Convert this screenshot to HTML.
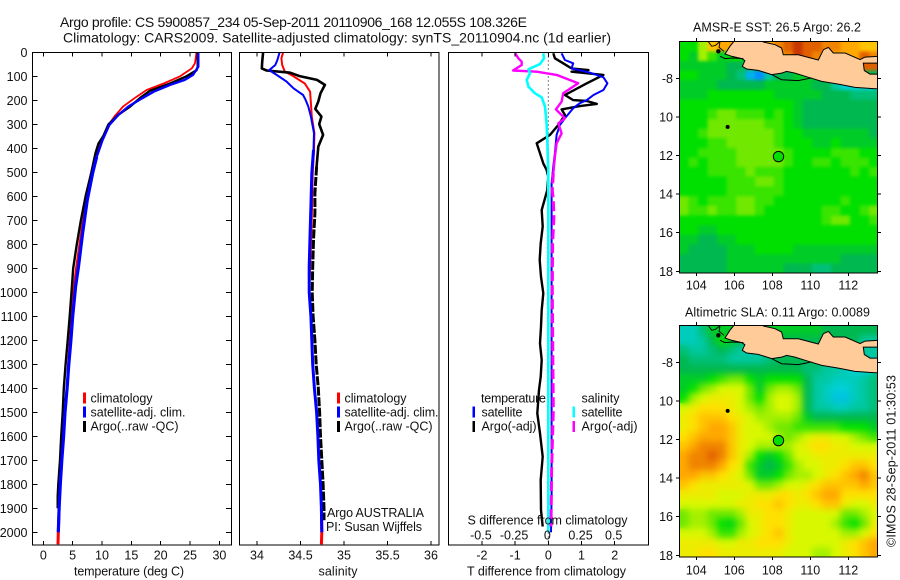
<!DOCTYPE html>
<html lang="en">
<head>
<meta charset="utf-8">
<title>Argo profile</title>
<style>
html,body{margin:0;padding:0;background:#fff;width:900px;height:580px;overflow:hidden}
svg{display:block}
text{font-family:"Liberation Sans",Arial,sans-serif;font-size:12.5px;fill:#111}
</style>
</head>
<body>
<svg id="fig" xmlns="http://www.w3.org/2000/svg" width="900" height="580" viewBox="0 0 900 580">
<defs>
<clipPath id="clip-sst"><rect x="679.5" y="41.5" width="198" height="231.5"/></clipPath>
<clipPath id="clip-sla"><rect x="679.5" y="325.5" width="198" height="231.5"/></clipPath>
<clipPath id="clip-p1"><rect x="32.5" y="52.5" width="199" height="492.5"/></clipPath>
<clipPath id="clip-p2"><rect x="239.5" y="52.5" width="199.5" height="492.5"/></clipPath>
<clipPath id="clip-p3"><rect x="448.5" y="52.5" width="200" height="492.5"/></clipPath>
<filter id="soft-sst" filterUnits="userSpaceOnUse" x="670" y="30" width="220" height="255" color-interpolation-filters="sRGB">
<feGaussianBlur in="SourceGraphic" stdDeviation="1.6" result="b"/>
<feMerge><feMergeNode in="SourceGraphic"/><feMergeNode in="b"/></feMerge>
</filter>
<filter id="soft-sla" filterUnits="userSpaceOnUse" x="670" y="315" width="220" height="255" color-interpolation-filters="sRGB">
<feGaussianBlur in="SourceGraphic" stdDeviation="3.4" result="b"/>
<feMerge><feMergeNode in="SourceGraphic"/><feMergeNode in="b"/></feMerge>
</filter>
</defs>
<rect width="900" height="580" fill="#fff"/>
<text x="60" y="27" style="font-size:14px" textLength="467" lengthAdjust="spacing">Argo profile: CS 5900857_234 05-Sep-2011 20110906_168 12.055S 108.326E</text>
<text x="63" y="42.5" style="font-size:14px" textLength="548" lengthAdjust="spacing">Climatology: CARS2009. Satellite-adjusted climatology: synTS_20110904.nc (1d earlier)</text>
<g id="p1"></g>
<g id="p2"></g>
<g id="p3"></g>
<g id="m1"></g>
<g id="m2"></g>

<text x="74" y="575.5" textLength="110" lengthAdjust="spacing">temperature (deg C)</text>
<text x="318.5" y="575.5" textLength="39" lengthAdjust="spacing">salinity</text>
<text x="467" y="575.5" textLength="159" lengthAdjust="spacing">T difference from climatology</text>
<text x="467.5" y="524.5" textLength="160" lengthAdjust="spacing">S difference from climatology</text>

<g>
<rect x="83" y="392.5" width="3" height="11" fill="#f00"/>
<rect x="83" y="406.5" width="3" height="11" fill="#00f"/>
<rect x="83" y="421" width="3" height="11" fill="#000"/>
<text x="90.5" y="402.5" textLength="62" lengthAdjust="spacing">climatology</text>
<text x="90.5" y="416.5" textLength="95" lengthAdjust="spacing">satellite-adj. clim.</text>
<text x="90.5" y="430.5" textLength="88" lengthAdjust="spacing">Argo(..raw -QC)</text>
</g>
<g>
<rect x="337" y="392.5" width="3" height="11" fill="#f00"/>
<rect x="337" y="406.5" width="3" height="11" fill="#00f"/>
<rect x="337" y="421" width="3" height="11" fill="#000"/>
<text x="344.5" y="402.5" textLength="62" lengthAdjust="spacing">climatology</text>
<text x="344.5" y="416.5" textLength="94" lengthAdjust="spacing">satellite-adj. clim.</text>
<text x="344.5" y="430.5" textLength="88" lengthAdjust="spacing">Argo(..raw -QC)</text>
<text x="327" y="517" textLength="97" lengthAdjust="spacing">Argo AUSTRALIA</text>
<text x="326" y="531" textLength="96" lengthAdjust="spacing">PI: Susan Wijffels</text>
</g>
<g>
<text x="481" y="402.5" textLength="65" lengthAdjust="spacing">temperature</text>
<rect x="472.5" y="406.5" width="2.5" height="11" fill="#00f"/>
<rect x="472.5" y="421" width="2.5" height="11" fill="#000"/>
<text x="481.5" y="416.5" textLength="41" lengthAdjust="spacing">satellite</text>
<text x="481.5" y="430.5" textLength="55" lengthAdjust="spacing">Argo(-adj)</text>
<text x="581.5" y="402.5" textLength="38" lengthAdjust="spacing">salinity</text>
<rect x="572.5" y="406.5" width="2.5" height="11" fill="#0ff"/>
<rect x="572.5" y="421" width="2.5" height="11" fill="#f0f"/>
<text x="581.5" y="416.5" textLength="41" lengthAdjust="spacing">satellite</text>
<text x="581.5" y="430.5" textLength="56" lengthAdjust="spacing">Argo(-adj)</text>
</g>
<text x="693" y="31.5" textLength="168" lengthAdjust="spacing">AMSR-E SST: 26.5 Argo: 26.2</text>
<text x="685" y="316.5" textLength="185" lengthAdjust="spacing">Altimetric SLA: 0.11 Argo: 0.0089</text>
<text transform="translate(895.5,547) rotate(-90)" textLength="172" lengthAdjust="spacing">©IMOS 28-Sep-2011 01:30:53</text>
</svg>
<script>
// ---------- profile data ----------
const tempClimDepth = [0,45,67,100,130,157,185,226,268,303,365,435,504,615,754,893,976,1100,1200,1300,1400,1500,1600,1700,1800,1900,2000,2050];
const tempClim = [26.1,25.85,25.3,23.3,20.5,17.6,15.9,13.6,12.1,11.1,9.9,9,8.2,7.3,6.4,5.6,5.2,4.8,4.5,4.2,4,3.6,3.4,3.1,2.85,2.7,2.55,2.5];
const tempSatDepth = [0,60,94,115,136,164,192,226,261,303,365,435,504,615,754,893,976,1100,1200,1300,1400,1500,1600,1700,1800,1900,2000];
const tempSat = [26.4,26.4,25.5,24.1,21.6,18.8,16.8,14.5,12.8,11.25,10.1,9.1,8.4,7.5,6.7,6,5.5,5,4.7,4.35,4.05,3.7,3.45,3.15,2.9,2.7,2.55];
const tempArgoDepth = [0,60,75,100,130,160,190,226,260,300,350,380,420,500,600,700,800,900,1000,1100,1200,1300,1400,1500,1600,1700,1800,1850,1900];
const tempArgo = [26.3,26.3,26.1,24.4,21.6,18.2,16.5,14.8,12.8,11.1,10.2,9.4,8.9,8.2,7.2,6.4,5.7,5.1,4.8,4.5,4.15,3.8,3.5,3.3,3.05,2.85,2.55,2.45,2.45];

const salClimDepth = [0,25,53,80,100,130,164,212,268,337,407,504,615,754,893,1000,1100,1200,1300,1400,1500,1600,1700,1800,1900,2000,2050];
const salClim = [34.3,34.28,34.29,34.32,34.42,34.55,34.61,34.62,34.63,34.66,34.655,34.64,34.635,34.625,34.61,34.6,34.62,34.63,34.64,34.66,34.685,34.7,34.71,34.73,34.74,34.745,34.74];
const salSatDepth = [0,32,53,74,94,122,150,178,199,226,268,337,407,504,643,754,893,1000,1100,1200,1300,1400,1500,1600,1700,1800,1900,2000];
const salSat = [34.26,34.235,34.21,34.14,34.225,34.34,34.42,34.53,34.56,34.59,34.62,34.655,34.65,34.63,34.62,34.61,34.6,34.6,34.62,34.63,34.64,34.66,34.685,34.7,34.71,34.73,34.74,34.745];
const salArgoDepth = [0,40,67,76,85,99,115,136,171,205,236,268,299,344,393,476,587,670,782,893,1000,1100,1200,1300,1400,1500,1600,1700,1800,1900,1950];
const salArgo = [34.07,34.06,34.055,34.11,34.38,34.49,34.69,34.78,34.73,34.705,34.67,34.74,34.715,34.76,34.705,34.685,34.665,34.665,34.65,34.64,34.635,34.645,34.665,34.68,34.705,34.72,34.73,34.745,34.76,34.77,34.77];

const tDiffSatDepth = [4,32,46,67,85,104,129,157,178,199,212,233,275,303,344,421,476,546,700,1000,1300,1600,1850,2000];
const tDiffSat = [0.4,0.5,0.75,0.7,1.26,1.66,1.78,1.66,1.36,1.16,0.95,0.75,0.5,0.35,0.25,0.2,0.15,0.1,0.1,0.1,0.1,0.1,0.1,0.08];
const tDiffArgoDepth = [4,25,46,67,74,81,94,129,178,199,203,215,224,238,261,303,344,379,421,463,490,518,574,657,726,796,865,935,1004,1074,1143,1213,1282,1352,1407,1504,1588,1685,1782,1907,1976];
const tDiffArgo = [0.15,0.2,0.45,0.7,1.21,0.7,1.66,1.16,0.5,0.75,1.16,1.46,0.95,0.4,0.5,0.3,0.05,-0.35,-0.25,-0.15,-0.05,0,-0.03,-0.2,-0.17,-0.23,-0.26,-0.22,-0.15,-0.2,-0.22,-0.25,-0.2,-0.23,-0.28,-0.33,-0.25,-0.17,-0.23,-0.22,-0.17];
const sDiffSatDepth = [4,25,49,71,88,115,143,171,188,226,296,365,504,1000,2000];
const sDiffSat = [-0.0375,-0.0325,-0.0625,-0.15,-0.1375,-0.1625,-0.15,-0.1,-0.05,-0.025,-0.0125,-0.0075,0,0,0];
const sDiffArgoDepth = [4,25,39,53,76,81,94,129,171,206,238,275,296,338,379,435,504,574,615,685,796,1000,1300,1490,1740,1976];
const sDiffArgo = [-0.25,-0.225,-0.2,-0.2,-0.265,-0.0875,0.0625,0.225,0.1125,0.1,0.0575,0.125,0.075,0.1,0.0625,0.05,0.0375,0.03,0.0375,0.0425,0.0325,0.03,0.035,0.0375,0.025,0.02];

// ---------- tick labels ----------
const depthTicks = [0,100,200,300,400,500,600,700,800,900,1000,1100,1200,1300,1400,1500,1600,1700,1800,1900,2000];
const tempTicks = [0,5,10,15,20,25,30];
const salTicks = [34,34.5,35,35.5,36];
const tDiffTicks = [-2,-1,0,1,2];
const sDiffTicks = [-0.5,-0.25,0,0.25,0.5];
const lonTicks = [104,106,108,110,112];
const latTicks = [-8,-10,-12,-14,-16,-18];
const latTickLabels = ['-8','10','12','14','16','18'];

// ---------- map grids: colour level per 0.5 degree cell, north to south ----------
const sstLevels = [
[5,5,6.5,8.5,9,9,9,9,9,9,9.5,10,10.5,10,10,9.5,9.5,9,9,8.5,8.5],
[5,4.5,6.5,5.5,4.5,5,5,5,5,5,9,9.5,10.5,10,9.5,9.5,9,9,9,10,9.5],
[4.5,4.5,4.5,4.5,4.5,4,4,4,4,4,4,4,4,4,4,4,4,4,4,10,10],
[5,5,4.5,4.5,4.5,4,3.5,1.5,1,3,4,4,4.5,4.5,4.5,4.5,4,4,4,4,4],
[4.5,4.5,4.5,4.5,4,4,4,4,4,4.5,4.5,4.5,4.5,4.5,4,4,3,2,2,2,2],
[4.5,4.5,4.5,5,5,5,5,5,5,5,4.5,4.5,4.5,4.5,4.5,4,4,4,3.5,3.5,3.5],
[5,5,5,5,5,5,5,5,5,5,5,5,4.5,4,4,4,4,4,4,4,4],
[5,5,5,5.5,6,6,5.5,5.5,5.5,5,5.5,5,4.5,4,4,4,4,4,4,4,4],
[5,5,5,6,6,6,6,6,6,5.5,5.5,5,4.5,4,4,4,4,4,4,4,4],
[5,5,5.5,6,6,6,6,6,6,6,5.5,5,5,4.5,4.5,4.5,4.5,4.5,4.5,4.5,4],
[5,5,5,5.5,5.5,6,6,6,6,6,5.5,5,5,5,4.5,4.5,5,4.5,4.5,4.5,4.5],
[5,5,5.5,5.5,5.5,5.5,6,6,6,6,6,5.5,5,5,5,5,5.5,5.5,5.5,5,5],
[5,5.5,5,5.5,5.5,5.5,6,6,6,6,6,5.5,5,5,5.5,5.5,5,5.5,5.5,5.5,5],
[5,5,5,5.5,5.5,5.5,5.5,6,5.5,5.5,5.5,5,5,5,5,5,5,5,5.5,5,5.5],
[5,5,5,5,5,5.5,5.5,5.5,6,6,5.5,5,5,5,5,5,5,5,5,5,5],
[5,5,5,5,5,5.5,5.5,5.5,5.5,5.5,5.5,5,5,5,5,5,5,5,5,5,5],
[6,5.5,5,5.5,5.5,5.5,6,6,5.5,5.5,5,5,5,5,5,5,5,5.5,5,5,5],
[6,5.5,5.5,6,5.5,5.5,6,6,5.5,5,5,5,5,5,5,5.5,5.5,5,5,5.5,6],
[5,5,5,5,5,5,5,5,5,5,5,5,5,5,5,5.5,6,6,5,5,5.5],
[5,5,4.5,4.5,5,5,5,5,5,5,5,5,5,5,5,5,5,5,5,5,5],
[4.5,4.5,4,4,4.5,4.5,5,5,5,5,5,5,5,5,5,5,5,5,5,5,5],
[4.5,4,4,4,4,4.5,4.5,4.5,5,5,5,5,4.5,4.5,4.5,4.5,4.5,4.5,4.5,4.5,4.5],
[4,4,4,4,4,4.5,4.5,4.5,4.5,4.5,4.5,4.5,4.5,4.5,4.5,4.5,4.5,4,4,4,4],
[4,4,4,4,4,4.5,4.5,4.5,4.5,4.5,4.5,4,4,4,3.5,3.5,4,4,4,4,4]
];
const slaLevels = [
[2.5,2.5,3.5,4.5,4.5,4.5,4.5,4.5,4.5,4.5,4.5,4.5,4.5,4.5,4.5,4,4,4,4,4,4],
[2.5,2.5,3,4,5,4.5,4,4,4,4,4,4,4,4,4,4,4,4,4,3,3],
[3.5,3,3,3.5,4,3.5,3,3,3,3,3.5,3.5,3.5,3.5,3.5,3.5,3.5,3.5,3.5,3,3],
[4,3.5,3.5,3.5,3.5,3,3,3,3,3.5,4,4,4,4,4,3.5,3.5,3,3,3,3],
[4,4,4,4,4,4,4,4,4,4,4,4,4,3.5,3.5,3,3,2.5,2,2,2.5],
[4.5,4.5,4.5,5,5.5,6,6,5,4.5,5,5,5,5,4,3,3,2.5,2.5,2.5,3,3.5],
[4.5,5,6,6.5,7,7,7,6,4.5,6,6.5,6.5,6,4,3,2.5,2,2,2.5,3,3.5],
[5,6.5,7,7.5,7.5,7.5,7,6,5,6.5,7,7,6.5,4,3,2.5,1.8,1.8,2.5,3,3.5],
[7,7.5,8,8,8,7.5,7,6.5,6,6.5,7,7,6.5,4,3,3,2.5,2.5,3,3,3.5],
[7.5,8,8.5,8.5,8.5,8,7.5,7,6.5,6.5,6.5,6.5,6,4.5,4,4,4,4,4,4,4],
[7.5,8,8.5,9,9,8.5,7.5,7,7,6.5,6,6,5.5,5.5,5.5,5.5,5.5,5,5,5,4.5],
[8,8.5,9,9,9,8.5,7.5,7,7,7,6.5,6,6.5,7,7.5,7.5,7,7,6.5,6,5.5],
[8.5,9,9.5,9.5,9.5,8.5,7.5,7,6.5,6.5,6.5,6.5,7,7.5,8,8,7.5,7.5,7,7,7],
[9,9.5,9.5,10,9.5,8.5,7.5,6.5,5,4.5,5,6,7,7,7.5,7.5,7.5,7.5,7.5,7.5,7.5],
[9,9.5,9.5,9.5,9,8,7.5,5.5,4.5,4,4.5,5.5,6.5,7,7,7.5,7.5,8,8.5,8.5,8],
[9,9,8.5,8.5,8,7.5,7,6,4.5,4.5,5,6,6.5,6.5,7,7.5,8,8.5,9,9.5,8.5],
[8.5,8,7.5,7.5,7.5,7.5,7.5,7,6,6,6.5,7,7,7.5,8,8.5,8.5,8.5,8.5,9,8.5],
[7.5,7.5,7.5,7.5,7,7,7,7.5,7.5,7.5,8,8,7.5,8,8.5,9,9,8,8,8,8],
[7,7,7,7,7,7,7.5,7.5,8,8,8.5,8,7.5,7.5,8,8.5,8.5,7.5,7,7,7.5],
[6,6.5,6.5,6,6,6,6.5,7.5,7.5,8,8,7.5,7,7,7,7,7,6,6,6.5,7],
[6,6.5,6.5,6,5,4.8,6,7,7.5,8,8,7.5,7,7,7,7,6.5,5.5,5,6,7.5],
[7,7,7,6.5,5.5,5.5,6.5,7,7.5,8,8.5,7.5,7,7,7,7,7,6.5,6.5,7,8],
[7.5,7.5,7.5,7.5,7,7,7.5,7.5,8,8,8,7.5,7,7,7,7,7,7.5,8,8.5,9],
[7.5,7.5,8,8,7.5,7.5,7.5,7.5,7.5,7.5,7.5,7,7,7,6.5,6.5,7,7.5,8,8.5,9]
];
const sstArgoLevel = [5];
const slaArgoLevel = [5];
const argoLon = [108.326];
const argoLat = [-12.055];

// ---------- coastlines ----------
const javaLon = [105.95,105.77,105.51,105.86,106.39,106.56,106.42,106.65,107.26,107.97,108.49,108.76,109.19,109.9,110.6,111.48,112.35,113.41,113.6,113.6,113.14,112.84,112.79,113.6,113.6,112.88,112.62,111.83,111.21,110.95,110.69,110.42,109.37,108.58,108.49,108.14,107.53,107.3,105.95];
const javaLat = [-6.12,-6.34,-6.74,-6.86,-6.98,-7.09,-7.38,-7.52,-7.59,-7.81,-7.73,-7.64,-7.73,-7.95,-8.16,-8.3,-8.47,-8.54,-8.54,-7.78,-7.78,-7.6,-7.21,-7.21,-6.86,-6.9,-7.03,-6.69,-6.69,-6.4,-6.52,-7.05,-6.78,-6.78,-6.43,-6.26,-6.12,-5.9,-5.9];
const southCoastLon = [107.97,108.49,109.37,110.07];
const southCoastLat = [-7.81,-8.07,-8.12,-7.98];
const straitCoastLon = [105.25,105.51,105.9,106.48];
const straitCoastLat = [-6.86,-6.98,-6.95,-6.98];
const sumatraCoastLon = [104.63,104.81,105.0,105.25,105.2,105.45];
const sumatraCoastLat = [-6.1,-6.34,-6.3,-6.1,-6.4,-6.6];
const islandLon = [105.16,105.65];
const islandLat = [-6.6,-10.52];
const islandRadius = [2.2,2];

// ---------- colour scale ----------
const levelColours = ['#0030ff','#0090ff','#00d0d8','#00c8a0','#00b850','#00e000','#70e800','#d8f800','#ffe000','#ffa800','#e06000','#b01000'];

// ---------- axes ----------
const depthY = d => 52.3 + d * 0.24;
const tempX = v => 43.3 + v * 5.87;
const salX = v => 257 + (v - 34) * 87;
const tDiffX = v => 548.3 + v * 33.2;
const sDiffX = v => 548.3 + v * 132.8;
const lonX = v => 696.3 + (v - 104) * 19;
const sstLatY = v => 78.3 + (-8 - v) * 19.3;
const slaLatY = v => 362.3 + (-8 - v) * 19.3;

const NS = 'http://www.w3.org/2000/svg';
function make(tag, parent, props, txt) {
  const e = document.createElementNS(NS, tag);
  for (const k in props) e.setAttribute(k, props[k]);
  if (txt !== undefined) e.textContent = txt;
  parent.appendChild(e);
  return e;
}
function levelColour(l) {
  const t = Math.max(0, Math.min(levelColours.length - 1, l));
  const i = Math.min(Math.floor(t), levelColours.length - 2);
  const f = t - i;
  const a = levelColours[i], b = levelColours[i + 1];
  const ch = p => Math.round(parseInt(a.substr(p, 2), 16) * (1 - f) + parseInt(b.substr(p, 2), 16) * f);
  return 'rgb(' + ch(1) + ',' + ch(3) + ',' + ch(5) + ')';
}
// Draws the part of a profile between two depths; split draws use a different weight or dash below the thermocline.
function curve(parent, xs, ds, xf, colour, width, name, dash, minD, maxD) {
  const lo = minD === undefined ? -1 : minD;
  const hi = maxD === undefined ? 1e9 : maxD;
  const pts = [];
  xs.forEach((v, i) => {
    if (ds[i] >= lo && ds[i] <= hi) pts.push(xf(v).toFixed(1) + ',' + depthY(ds[i]).toFixed(1));
  });
  const p = make('polyline', parent, {points: pts.join(' '), fill: 'none', stroke: colour, 'stroke-width': width, 'stroke-linejoin': 'round'});
  if (dash) p.setAttribute('stroke-dasharray', dash);
  
  
  return p;
}
function frame(parent, x, w) {
  const r = make('rect', parent, {x: x, y: 52.5, width: w, height: 492.5, fill: 'none', stroke: '#000', 'stroke-width': 1.1, 'shape-rendering': 'crispEdges'});
  
  
}
function xTicks(parent, ticks, xf, labelY, len) {
  ticks.forEach(v => {
    const x = xf(v);
    const a = make('line', parent, {x1: x, x2: x, y1: 52.5, y2: 52.5 + len, stroke: '#000', 'shape-rendering': 'crispEdges'});
    
    
    const b = make('line', parent, {x1: x, x2: x, y1: 545, y2: 545 - len, stroke: '#000', 'shape-rendering': 'crispEdges'});
    
    
    const t = make('text', parent, {x: x, y: labelY, 'text-anchor': 'middle'}, String(v));
    
    
  });
}

// ---------- temperature panel ----------
const p1 = document.getElementById('p1');
const p1c = make('g', p1, {'clip-path': 'url(#clip-p1)'});


curve(p1c, tempClim, tempClimDepth, tempX, '#f00', 1.8, 'temperature-climatology-line-upper', null, -1, 1976);
curve(p1c, tempClim, tempClimDepth, tempX, '#f00', 3, 'temperature-climatology-line-deep', null, 1900);
curve(p1c, tempArgo, tempArgoDepth, tempX, '#000', 2.4, 'temperature-argo-line');
curve(p1c, tempSat, tempSatDepth, tempX, '#00f', 2.4, 'temperature-satellite-line-upper', null, -1, 435);
curve(p1c, tempSat, tempSatDepth, tempX, '#00f', 3.2, 'temperature-satellite-line-deep', null, 435);
frame(p1, 32.5, 199);
xTicks(p1, tempTicks, tempX, 559.5, 4);
depthTicks.forEach(d => {
  const y = depthY(d);
  const a = make('line', p1, {x1: 32.5, x2: 37.5, y1: y, y2: y, stroke: '#000', 'shape-rendering': 'crispEdges'});
  
  
  const b = make('line', p1, {x1: 226, x2: 231.5, y1: y, y2: y, stroke: '#000', 'shape-rendering': 'crispEdges'});
  
  
  const t = make('text', p1, {x: 27.5, y: y + 4.5, 'text-anchor': 'end'}, String(d));
  
  
});

// ---------- salinity panel ----------
const p2 = document.getElementById('p2');
const p2c = make('g', p2, {'clip-path': 'url(#clip-p2)'});


curve(p2c, salClim, salClimDepth, salX, '#f00', 2, 'salinity-climatology-line-upper', null, -1, 1900);
curve(p2c, salClim, salClimDepth, salX, '#f00', 3, 'salinity-climatology-line-deep', null, 1900);
curve(p2c, salArgo, salArgoDepth, salX, '#000', 2.6, 'salinity-argo-line-upper', null, -1, 476);
curve(p2c, salArgo, salArgoDepth, salX, '#000', 3, 'salinity-argo-line-deep', '9 1.5', 476);
curve(p2c, salSat, salSatDepth, salX, '#00f', 2, 'salinity-satellite-line-upper', null, -1, 407);
curve(p2c, salSat, salSatDepth, salX, '#00f', 3, 'salinity-satellite-line-deep', null, 407);
frame(p2, 239.5, 199.5);
xTicks(p2, salTicks, salX, 559.5, 4);

// ---------- difference panel ----------
const p3 = document.getElementById('p3');
const p3c = make('g', p3, {'clip-path': 'url(#clip-p3)'});


const zeroLine = make('line', p3c, {x1: tDiffX(0), x2: tDiffX(0), y1: 52.5, y2: 545, stroke: '#000', 'stroke-dasharray': '1 3'});


curve(p3c, tDiffArgo, tDiffArgoDepth, tDiffX, '#000', 2.4, 't-difference-argo-line');
curve(p3c, tDiffSat, tDiffSatDepth, tDiffX, '#00f', 2, 't-difference-satellite-line');
curve(p3c, sDiffArgo, sDiffArgoDepth, sDiffX, '#f0f', 2.4, 's-difference-argo-line-upper', null, -1, 504);
curve(p3c, sDiffArgo, sDiffArgoDepth, sDiffX, '#f0f', 3, 's-difference-argo-line-deep', '10 4', 504);
curve(p3c, sDiffSat, sDiffSatDepth, sDiffX, '#0ff', 2.6, 's-difference-satellite-line');
frame(p3, 448.5, 200);
xTicks(p3, tDiffTicks, tDiffX, 559.5, 4);
sDiffTicks.forEach(v => {
  const t = make('text', p3, {x: sDiffX(v) - 1, y: 539.5, 'text-anchor': 'middle'}, String(v));
  
  
});

// ---------- maps ----------
function drawMap(id, clip, soft, rows, latY, frameY, frameH, labelY, markerLevel, prefix) {
  const root = document.getElementById(id);
  const g = make('g', root, {'clip-path': 'url(#' + clip + ')'});
  
  
  const cells = make('g', g, {filter: 'url(#' + soft + ')'});
  
  
  const lat0 = -6.1, lon0 = 103.1, step = 0.5;
  rows.forEach((row, i) => {
    row.forEach((level, j) => {
      const x0 = lonX(lon0 + j * step), x1 = lonX(lon0 + (j + 1) * step);
      const y0 = latY(lat0 - i * step), y1 = latY(lat0 - (i + 1) * step);
      const c = make('rect', cells, {x: x0.toFixed(2), y: y0.toFixed(2), width: (x1 - x0 + 0.4).toFixed(2), height: (y1 - y0 + 0.4).toFixed(2), fill: levelColour(level), 'shape-rendering': 'crispEdges'});
      
      
    });
  });
  const pts = (lons, lats) => lons.map((v, i) => lonX(v).toFixed(1) + ',' + latY(lats[i]).toFixed(1)).join(' ');
  const land = make('polygon', g, {points: pts(javaLon, javaLat), fill: '#ffcc99', stroke: '#000', 'stroke-width': 1});
  
  
  const s1 = make('polyline', g, {points: pts(southCoastLon, southCoastLat), fill: 'none', stroke: '#000', 'stroke-width': 1});
  
  
  const s2 = make('polyline', g, {points: pts(straitCoastLon, straitCoastLat), fill: 'none', stroke: '#000', 'stroke-width': 1});
  
  
  const s3 = make('polyline', g, {points: pts(sumatraCoastLon, sumatraCoastLat), fill: 'none', stroke: '#000', 'stroke-width': 0.9});
  
  
  islandLon.forEach((v, i) => {
    const c = make('circle', g, {cx: lonX(v), cy: latY(islandLat[i]), r: islandRadius[i], fill: '#000'});
    
    
  });
  const m = make('circle', g, {cx: lonX(argoLon[0]), cy: latY(argoLat[0]), r: 5.2, fill: levelColour(markerLevel), stroke: '#000', 'stroke-width': 1});
  
  
  const f = make('rect', root, {x: 679.5, y: frameY, width: 198, height: frameH, fill: 'none', stroke: '#000', 'stroke-width': 1.1, 'shape-rendering': 'crispEdges'});
  
  
  lonTicks.forEach(v => {
    const x = lonX(v);
    const a = make('line', root, {x1: x, x2: x, y1: frameY - 3.5, y2: frameY, stroke: '#000', 'shape-rendering': 'crispEdges'});
    
    
    const b = make('line', root, {x1: x, x2: x, y1: frameY + frameH, y2: frameY + frameH + 3, stroke: '#000', 'shape-rendering': 'crispEdges'});
    
    
    const t = make('text', root, {x: x, y: labelY, 'text-anchor': 'middle'}, String(v));
    
    
  });
  latTicks.forEach((v, i) => {
    const y = latY(v);
    const a = make('line', root, {x1: 676, x2: 679.5, y1: y, y2: y, stroke: '#000', 'shape-rendering': 'crispEdges'});
    
    
    const b = make('line', root, {x1: 877.5, x2: 881, y1: y, y2: y, stroke: '#000', 'shape-rendering': 'crispEdges'});
    
    
    const t = make('text', root, {x: 673, y: y + 4.5, 'text-anchor': 'end'}, latTickLabels[i]);
    
    
  });
}
drawMap('m1', 'clip-sst', 'soft-sst', sstLevels, sstLatY, 41.5, 231.5, 289.5, sstArgoLevel[0], 'sst');
drawMap('m2', 'clip-sla', 'soft-sla', slaLevels, slaLatY, 325.5, 231.5, 574.5, slaArgoLevel[0], 'sla');
</script>
</body>
</html>
